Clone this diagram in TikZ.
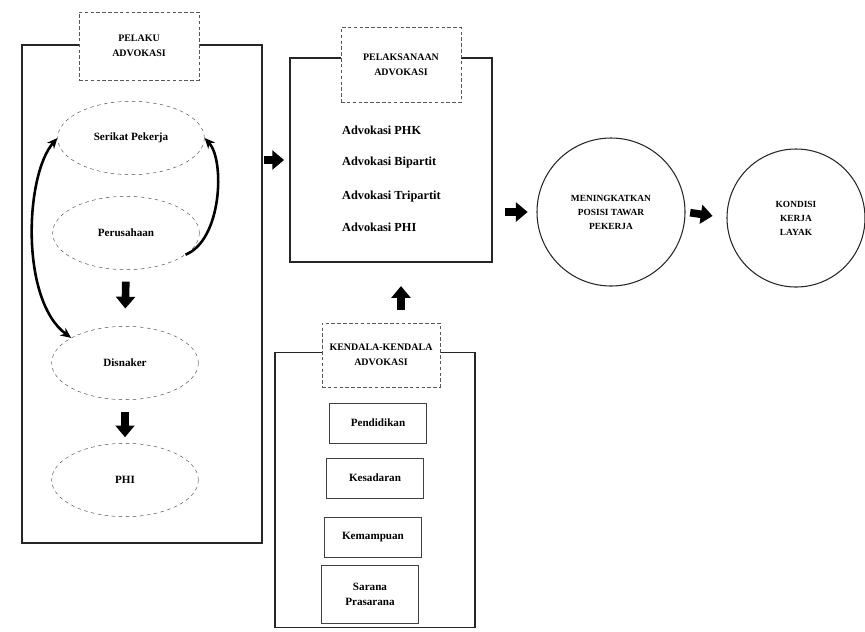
\documentclass[tikz,border=0pt]{standalone}
\usepackage{fontspec}
\setmainfont{Liberation Serif}
\usetikzlibrary{shapes.geometric,arrows.meta}

\begin{document}
\begin{tikzpicture}
  [x=0.03cm,y=-0.03cm,
   panel/.style={draw=black!85,line width=1.1pt,minimum width=#1},
   head/.style={draw=black!65,densely dashed,thin,fill=white,align=center,
     minimum width=3.6cm,font=\fontsize{8.5}{13}\selectfont\bfseries},
   actor/.style={draw=black!70,dashed,ellipse,minimum width=4.4cm,
     minimum height=2.2cm,font=\fontsize{9.5}{11}\selectfont\bfseries},
   item/.style={anchor=west,font=\fontsize{10.5}{12}\selectfont\bfseries},
   factor/.style={draw=black!75,thin,minimum width=2.9cm,minimum height=1.2cm,
     align=center,font=\fontsize{9.5}{13}\selectfont\bfseries},
   goal/.style={draw=black!85,circle,line width=0.9pt,align=center,
     font=\fontsize{8}{12}\selectfont\bfseries},
   blk/.style={line width=6.5pt,-{Triangle[width=16pt,length=10pt]}},
   curv/.style={line width=2.2pt,{Stealth[length=9pt,width=8pt]}-{Stealth[length=9pt,width=8pt]}}]
  \useasboundingbox (0,0) rectangle (865,631);

  \node[panel=7.2cm,minimum height=14.94cm] (lp) at (142,294) {};
  \node[panel=6.06cm,minimum height=6.12cm] (mp) at (391,160) {};
  \node[panel=6cm,minimum height=8.25cm] (bp) at (375,490) {};

  \node[head,minimum height=2.04cm] (lh) at (139,46) {PELAKU\\ADVOKASI};
  \node[head,minimum height=2.25cm] (mh) at (401,65) {PELAKSANAAN\\ADVOKASI};
  \node[head,minimum width=3.54cm,minimum height=1.92cm] (bh) at (381,355) {KENDALA-KENDALA\\ADVOKASI};

  \node[actor] (sp) at (131,138) {Serikat Pekerja};
  \node[actor] (pr) at (126,233) {Perusahaan};
  \node[actor] (dn) at (125,363) {Disnaker};
  \node[actor] (phi) at (125,480) {PHI};

  \foreach \name/\y/\txt in {a1/130/Advokasi PHK,a2/163/Advokasi Bipartit,
                             a3/197/Advokasi Tripartit,a4/227/Advokasi PHI}
    \node[item] (\name) at (338,\y) {\txt};

  \node[factor] (f1) at (378,423) {Pendidikan};
  \node[factor] (f2) at (375,478) {Kesadaran};
  \node[factor] (f3) at (373,537) {Kemampuan};
  \node[factor,minimum height=1.74cm] (f4) at (370,594) {Sarana\\Prasarana};

  \node[goal,minimum size=4.44cm] (c1) at (611,212) {MENINGKATKAN\\POSISI TAWAR\\PEKERJA};
  \node[goal,minimum size=4.14cm] (c2) at (796,218) {KONDISI\\KERJA\\LAYAK};

  \draw[blk,shorten <=1.5pt,shorten >=4.5pt] (lp.east |- mp.west) -- (mp.west);
  \draw[blk,shorten <=10.5pt,shorten >=7.5pt] (mp.east |- c1.west) -- (c1.west);
  \draw[blk,shorten <=4pt,shorten >=12pt] (c1.east) -- (c2.west);
  \draw[blk,shorten <=11pt,shorten >=20pt] (mh.south |- bh.north) -- (mh.south |- mp.south);
  \draw[blk,shorten <=10pt,shorten >=15pt] (pr.south) -- (dn.north);
  \draw[blk,shorten <=10pt,shorten >=5pt] (dn.south) -- (phi.north);

  \draw[curv] (sp.west) .. controls (25,175) and (20,300) .. (dn.155);
  \draw[line width=2.2pt,{Stealth[length=9pt,width=8pt]}-] (sp.east) .. controls (225,160) and (222,240) .. (pr.-20);

\end{tikzpicture}
\end{document}
